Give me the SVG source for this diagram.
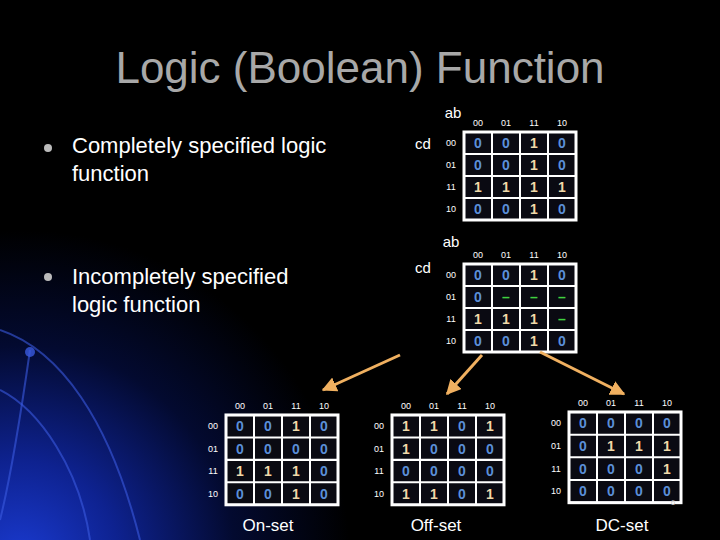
<svg xmlns="http://www.w3.org/2000/svg" width="720" height="540" viewBox="0 0 720 540">
<defs>
<radialGradient id="glow" cx="20" cy="560" r="330" gradientUnits="userSpaceOnUse">
<stop offset="0" stop-color="#1a3ad0"/><stop offset="0.3" stop-color="#0e2290"/><stop offset="0.65" stop-color="#030a30"/><stop offset="1" stop-color="#000"/>
</radialGradient>
<marker id="ah" viewBox="0 0 10 10" refX="9" refY="5" markerWidth="5" markerHeight="5" orient="auto"><path d="M0,0L10,5L0,10z" fill="#f0b060"/></marker>
<g id="grid">
<rect x="0" y="0" width="112" height="88" fill="#0a0a12" stroke="#fff" stroke-width="3"/>
<path d="M28,0V88M56,0V88M84,0V88M0,22H112M0,44H112M0,66H112" stroke="#fff" stroke-width="2"/>
</g>
</defs>
<style>
text{font-family:"Liberation Sans",Arial,sans-serif}
.h{fill:#fff;font-size:9px;text-anchor:middle}
.v{font-size:14px;font-weight:bold;text-anchor:middle}
.z{fill:#5b8fd8}.o{fill:#f0d8a8}.d{fill:#40d040}
.big{fill:#fff;font-size:22px}
.lab{fill:#fff;font-size:17px;text-anchor:middle}
</style>
<rect width="720" height="540" fill="#000"/>
<rect width="720" height="540" fill="url(#glow)"/>
<g fill="none" stroke="#3a5ae0" stroke-opacity="0.6" stroke-width="2">
<path d="M0,330 C60,350 110,420 140,540"/>
<path d="M0,390 C40,410 80,470 90,540"/>
<path d="M30,350 C20,420 10,480 0,520"/>
</g>
<circle cx="30" cy="352" r="5" fill="#3a5ae0" opacity="0.8"/>
<text x="360" y="83" fill="#a8a8a8" font-size="44" text-anchor="middle" font-family="Liberation Sans,sans-serif">Logic (Boolean) Function</text>
<g id="bullet1"><circle cx="48" cy="148" r="4" fill="#bbb"/><text class="big" x="72" y="153">Completely specified logic</text><text class="big" x="72" y="181">function</text></g>
<g id="bullet2"><circle cx="48" cy="277" r="4" fill="#bbb"/><text class="big" x="72" y="284">Incompletely specified</text><text class="big" x="72" y="312">logic function</text></g>
<g id="map1" transform="translate(464,132)">
<text x="-11" y="-14" fill="#fff" font-size="15" text-anchor="middle">ab</text>
<text x="-41" y="17" fill="#fff" font-size="15" text-anchor="middle">cd</text>
<text class="h" x="14" y="-6">00</text><text class="h" x="42" y="-6">01</text><text class="h" x="70" y="-6">11</text><text class="h" x="98" y="-6">10</text>
<text class="h" x="-13" y="14">00</text><text class="h" x="-13" y="36">01</text><text class="h" x="-13" y="58">11</text><text class="h" x="-13" y="80">10</text>
<use href="#grid"/>
<text class="v z" x="14" y="16">0</text><text class="v z" x="42" y="16">0</text><text class="v o" x="70" y="16">1</text><text class="v z" x="98" y="16">0</text>
<text class="v z" x="14" y="38">0</text><text class="v z" x="42" y="38">0</text><text class="v o" x="70" y="38">1</text><text class="v z" x="98" y="38">0</text>
<text class="v o" x="14" y="60">1</text><text class="v o" x="42" y="60">1</text><text class="v o" x="70" y="60">1</text><text class="v o" x="98" y="60">1</text>
<text class="v z" x="14" y="82">0</text><text class="v z" x="42" y="82">0</text><text class="v o" x="70" y="82">1</text><text class="v z" x="98" y="82">0</text>
</g>
<g id="map2" transform="translate(464,264)">
<text x="-13" y="-17" fill="#fff" font-size="15" text-anchor="middle">ab</text>
<text x="-41" y="9" fill="#fff" font-size="15" text-anchor="middle">cd</text>
<text class="h" x="14" y="-6">00</text><text class="h" x="42" y="-6">01</text><text class="h" x="70" y="-6">11</text><text class="h" x="98" y="-6">10</text>
<text class="h" x="-13" y="14">00</text><text class="h" x="-13" y="36">01</text><text class="h" x="-13" y="58">11</text><text class="h" x="-13" y="80">10</text>
<use href="#grid"/>
<text class="v z" x="14" y="16">0</text><text class="v z" x="42" y="16">0</text><text class="v o" x="70" y="16">1</text><text class="v z" x="98" y="16">0</text>
<text class="v z" x="14" y="38">0</text><text class="v d" x="42" y="38">–</text><text class="v d" x="70" y="38">–</text><text class="v d" x="98" y="38">–</text>
<text class="v o" x="14" y="60">1</text><text class="v o" x="42" y="60">1</text><text class="v o" x="70" y="60">1</text><text class="v d" x="98" y="60">–</text>
<text class="v z" x="14" y="82">0</text><text class="v z" x="42" y="82">0</text><text class="v o" x="70" y="82">1</text><text class="v z" x="98" y="82">0</text>
</g>
<g id="connectors" stroke="#f0b060" stroke-width="3" marker-end="url(#ah)">
<line x1="400" y1="355" x2="323" y2="390"/>
<line x1="482" y1="355" x2="447" y2="394"/>
<line x1="540" y1="352" x2="624" y2="394"/>
</g>
<g id="onset" transform="translate(226,415) scale(1,1.02)">
<text class="h" x="14" y="-6">00</text><text class="h" x="42" y="-6">01</text><text class="h" x="70" y="-6">11</text><text class="h" x="98" y="-6">10</text>
<text class="h" x="-13" y="14">00</text><text class="h" x="-13" y="36">01</text><text class="h" x="-13" y="58">11</text><text class="h" x="-13" y="80">10</text>
<use href="#grid"/>
<text class="v z" x="14" y="16">0</text><text class="v z" x="42" y="16">0</text><text class="v o" x="70" y="16">1</text><text class="v z" x="98" y="16">0</text>
<text class="v z" x="14" y="38">0</text><text class="v z" x="42" y="38">0</text><text class="v z" x="70" y="38">0</text><text class="v z" x="98" y="38">0</text>
<text class="v o" x="14" y="60">1</text><text class="v o" x="42" y="60">1</text><text class="v o" x="70" y="60">1</text><text class="v z" x="98" y="60">0</text>
<text class="v z" x="14" y="82">0</text><text class="v z" x="42" y="82">0</text><text class="v o" x="70" y="82">1</text><text class="v z" x="98" y="82">0</text>
</g>
<g id="offset" transform="translate(392,415) scale(1,1.02)">
<text class="h" x="14" y="-6">00</text><text class="h" x="42" y="-6">01</text><text class="h" x="70" y="-6">11</text><text class="h" x="98" y="-6">10</text>
<text class="h" x="-13" y="14">00</text><text class="h" x="-13" y="36">01</text><text class="h" x="-13" y="58">11</text><text class="h" x="-13" y="80">10</text>
<use href="#grid"/>
<text class="v o" x="14" y="16">1</text><text class="v o" x="42" y="16">1</text><text class="v z" x="70" y="16">0</text><text class="v o" x="98" y="16">1</text>
<text class="v o" x="14" y="38">1</text><text class="v z" x="42" y="38">0</text><text class="v z" x="70" y="38">0</text><text class="v z" x="98" y="38">0</text>
<text class="v z" x="14" y="60">0</text><text class="v z" x="42" y="60">0</text><text class="v z" x="70" y="60">0</text><text class="v z" x="98" y="60">0</text>
<text class="v o" x="14" y="82">1</text><text class="v o" x="42" y="82">1</text><text class="v z" x="70" y="82">0</text><text class="v o" x="98" y="82">1</text>
</g>
<g id="dcset" transform="translate(569,412) scale(1,1.03)">
<text class="h" x="14" y="-6">00</text><text class="h" x="42" y="-6">01</text><text class="h" x="70" y="-6">11</text><text class="h" x="98" y="-6">10</text>
<text class="h" x="-13" y="14">00</text><text class="h" x="-13" y="36">01</text><text class="h" x="-13" y="58">11</text><text class="h" x="-13" y="80">10</text>
<use href="#grid"/>
<text class="v z" x="14" y="16">0</text><text class="v z" x="42" y="16">0</text><text class="v z" x="70" y="16">0</text><text class="v z" x="98" y="16">0</text>
<text class="v z" x="14" y="38">0</text><text class="v o" x="42" y="38">1</text><text class="v o" x="70" y="38">1</text><text class="v o" x="98" y="38">1</text>
<text class="v z" x="14" y="60">0</text><text class="v z" x="42" y="60">0</text><text class="v z" x="70" y="60">0</text><text class="v o" x="98" y="60">1</text>
<text class="v z" x="14" y="82">0</text><text class="v z" x="42" y="82">0</text><text class="v z" x="70" y="82">0</text><text class="v z" x="98" y="82">0</text>
</g>
<text class="lab" x="268" y="531">On-set</text>
<text class="lab" x="436" y="531">Off-set</text>
<text class="lab" x="622" y="531">DC-set</text>
<text x="673" y="505" fill="#ccc" font-size="8" text-anchor="middle">6</text>
</svg>
